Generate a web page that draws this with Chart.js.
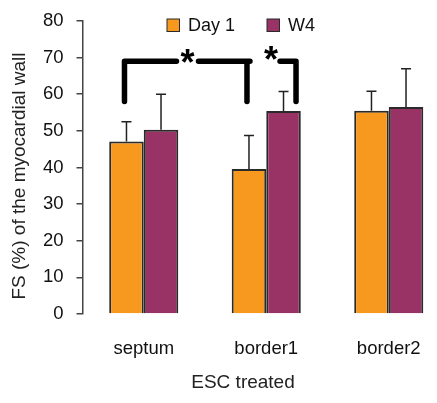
<!DOCTYPE html>
<html>
<head>
<meta charset="utf-8">
<script src="https://cdn.jsdelivr.net/npm/chart.js@4"></script>
<style>
  html, body { margin: 0; padding: 0; background: #fff; overflow: hidden; }
  #wrap { width: 452px; height: 403px; }
</style>
</head>
<body>
<div id="wrap"><canvas id="myChart" width="452" height="403"></canvas></div>
<script>
const categories = ['septum', 'border1', 'border2'];
const seriesNames = ['Day 1', 'W4'];
const day1Values = [47.1, 39.6, 55.5];
const w4Values = [50.3, 55.4, 56.5];
const day1Upper = [52.5, 48.7, 60.8];
const w4Upper = [60.0, 60.7, 66.9];
const yTicks = [0, 10, 20, 30, 40, 50, 60, 70, 80];
const yTitle = 'FS (%) of the myocardial wall';
const xTitle = 'ESC treated';
const starLevel = 69; // bracket height, in y units
const starDrop = 58;  // bracket feet, in y units

const FONT = '"Liberation Sans", Arial, Helvetica, sans-serif';
const ORANGE = '#f7991f';
const PURPLE = '#993366';
const EDGE = '#2a2a2a';

const extras = {
  id: 'extras',
  afterDatasetsDraw(chart) {
    const ctx = chart.ctx;
    const y = chart.scales.y;
    const uppers = [day1Upper, w4Upper];

    // upper error bars
    ctx.save();
    ctx.strokeStyle = '#222';
    ctx.lineWidth = 1.5;
    chart.data.datasets.forEach((ds, di) => {
      const meta = chart.getDatasetMeta(di);
      meta.data.forEach((bar, i) => {
        const top = y.getPixelForValue(uppers[di][i]);
        ctx.beginPath();
        ctx.moveTo(bar.x, bar.y);
        ctx.lineTo(bar.x, top);
        ctx.moveTo(bar.x - 5, top);
        ctx.lineTo(bar.x + 5, top);
        ctx.stroke();
      });
    });
    ctx.restore();

    // significance brackets
    const d1 = chart.getDatasetMeta(0).data;
    const w4 = chart.getDatasetMeta(1).data;
    const yTop = y.getPixelForValue(starLevel);
    const yFoot = y.getPixelForValue(starDrop);
    const xA = d1[0].x - 2;
    const xB = d1[1].x - 2;
    const xC = w4[1].x + 12.5;
    ctx.save();
    ctx.strokeStyle = '#000';
    ctx.lineWidth = 5.5;
    ctx.lineCap = 'round';
    ctx.lineJoin = 'round';
    ctx.beginPath();
    ctx.moveTo(xA, yFoot);
    ctx.lineTo(xA, yTop);
    ctx.lineTo(xA + 52, yTop);
    ctx.moveTo(xA + 74, yTop);
    ctx.lineTo(xB + 3, yTop);
    ctx.moveTo(xB, yTop);
    ctx.lineTo(xB, yFoot);
    ctx.moveTo(xC - 16, yTop);
    ctx.lineTo(xC, yTop);
    ctx.lineTo(xC, yFoot);
    ctx.stroke();

    ctx.fillStyle = '#000';
    ctx.font = 'bold 36px ' + FONT;
    ctx.textAlign = 'center';
    ctx.textBaseline = 'middle';
    ctx.fillText('*', xA + 63, yTop + 4);
    ctx.fillText('*', (xB + xC) / 2 - 0.5, yTop + 1);
    ctx.restore();
  },
  afterDraw(chart) {
    const ctx = chart.ctx;
    ctx.save();
    ctx.fillStyle = '#222';
    ctx.textAlign = 'center';
    ctx.textBaseline = 'middle';

    // axis titles
    ctx.font = '19px ' + FONT;
    ctx.fillText(xTitle, 243, 383);
    ctx.translate(20, 176);
    ctx.rotate(-Math.PI / 2);
    ctx.fillText(yTitle, 0, 0);
    ctx.restore();

    // legend over the plot
    ctx.save();
    ctx.font = '18px ' + FONT;
    ctx.textBaseline = 'middle';
    ctx.textAlign = 'left';
    const legendX = [167, 267];
    chart.data.datasets.forEach((ds, i) => {
      ctx.fillStyle = ds.backgroundColor;
      ctx.strokeStyle = EDGE;
      ctx.lineWidth = 1;
      ctx.fillRect(legendX[i], 19, 12.5, 12.5);
      ctx.strokeRect(legendX[i], 19, 12.5, 12.5);
      ctx.fillStyle = '#111';
      ctx.fillText(ds.label, legendX[i] + 21, 26);
    });
    ctx.restore();
  }
};

new Chart(document.getElementById('myChart'), {
  type: 'bar',
  data: {
    labels: categories,
    datasets: [
      {
        label: seriesNames[0],
        data: day1Values,
        backgroundColor: ORANGE,
        borderColor: EDGE,
        borderWidth: 2
      },
      {
        label: seriesNames[1],
        data: w4Values,
        backgroundColor: PURPLE,
        borderColor: EDGE,
        borderWidth: 2
      }
    ]
  },
  options: {
    responsive: false,
    animation: false,
    devicePixelRatio: 1,
    categoryPercentage: 0.564,
    barPercentage: 1,
    layout: { padding: { top: 17, right: 2, bottom: 0, left: 0 } },
    plugins: {
      legend: { display: false },
      tooltip: { enabled: false }
    },
    scales: {
      x: {
        grid: { display: false },
        border: { display: false },
        ticks: {
          color: '#111',
          padding: 16,
          font: { family: FONT, size: 18.5 }
        },
        afterFit(scale) { scale.height = 89; }
      },
      y: {
        min: 0,
        max: 80,
        afterBuildTicks(scale) {
          scale.ticks = yTicks.map(v => ({ value: v }));
        },
        grid: {
          drawOnChartArea: false,
          drawTicks: true,
          tickLength: 6,
          color: '#444',
          lineWidth: 1.5
        },
        border: { display: true, color: '#444', width: 1.5 },
        ticks: {
          color: '#111',
          padding: 13,
          font: { family: FONT, size: 18.5, lineHeight: 0.85 }
        },
        afterFit(scale) { scale.width = 82.5; }
      }
    }
  },
  plugins: [extras]
});
</script>
</body>
</html>
